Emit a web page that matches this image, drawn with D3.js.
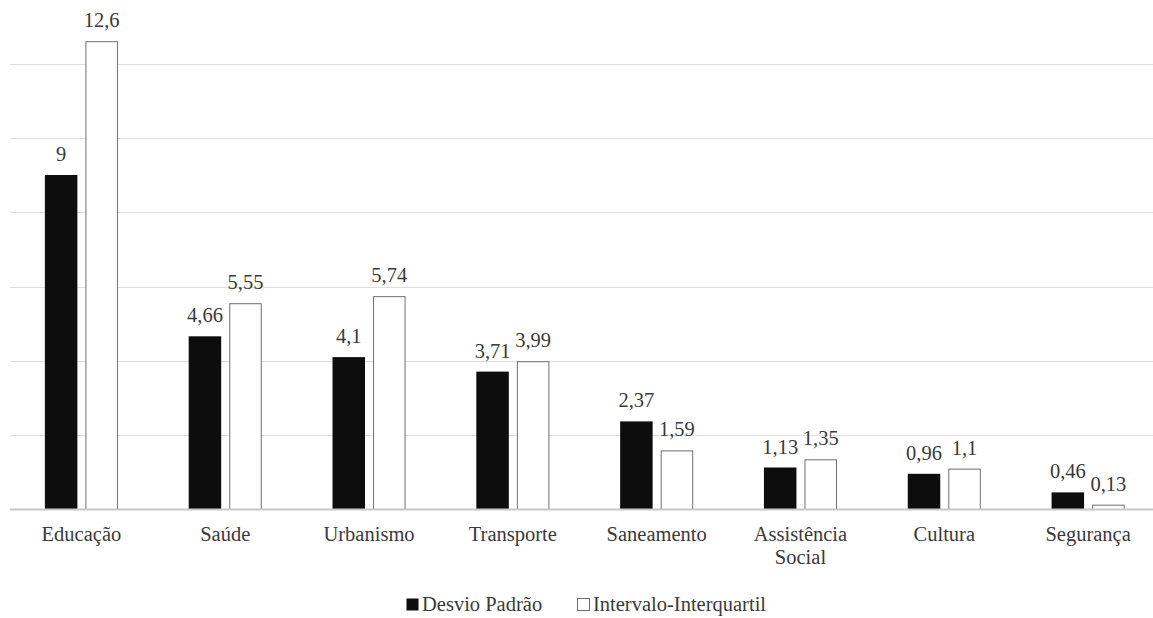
<!DOCTYPE html>
<html>
<head>
<meta charset="utf-8">
<script src="https://cdn.jsdelivr.net/npm/d3@7"></script>
<style>
  html, body { margin: 0; padding: 0; background: #fff; }
</style>
</head>
<body>
<svg id="chart" width="1153" height="618"></svg>
<script>
// Categories and the two dispersion measures per area
const categories = ["Educação", "Saúde", "Urbanismo", "Transporte", "Saneamento", "Assistência Social", "Cultura", "Segurança"];
const desvioPadrao = [9, 4.66, 4.1, 3.71, 2.37, 1.13, 0.96, 0.46];
const intervaloInterquartil = [12.6, 5.55, 5.74, 3.99, 1.59, 1.35, 1.1, 0.13];
const seriesNames = ["Desvio Padrão", "Intervalo-Interquartil"];
const yTicks = [0, 2, 4, 6, 8, 10, 12];

const W = 1153, H = 618;
const FONT = "'Liberation Serif', 'Times New Roman', Tinos, 'DejaVu Serif', serif";
const svg = d3.select("#chart").attr("font-family", FONT);

const plotLeft = 9.5, plotRight = 1160;
const x = d3.scaleBand().domain(categories).range([plotLeft, plotRight]).paddingInner(0).paddingOuter(0);
const y = d3.scaleLinear().domain([0, 12]).range([509.5, 63.5]);

const bw = x.bandwidth();
const barW = bw * 0.226;
const gap = bw * 0.056;

// Gridlines
svg.append("g").selectAll("line").data(yTicks.filter(d => d > 0)).join("line")
  .attr("x1", 10).attr("x2", W)
  .attr("y1", d => Math.round(y(d)) + 0.5).attr("y2", d => Math.round(y(d)) + 0.5)
  .attr("stroke", "#dedede").attr("stroke-width", 1.2);

const rows = categories.map((c, i) => ({ c, a: desvioPadrao[i], b: intervaloInterquartil[i] }));
const groups = svg.append("g").selectAll("g").data(rows).join("g")
  .attr("transform", d => `translate(${x(d.c) + bw / 2},0)`);

// Desvio Padrão bars (solid)
groups.append("rect")
  .attr("x", -gap / 2 - barW).attr("width", barW)
  .attr("y", d => y(d.a)).attr("height", d => y(0) - y(d.a))
  .attr("fill", "#0d0d0d");

// Intervalo-Interquartil bars (outlined)
groups.append("rect")
  .attr("x", gap / 2 + 0.5).attr("width", barW - 1)
  .attr("y", d => y(d.b) + 0.5).attr("height", d => Math.max(0, y(0) - y(d.b) - 0.5))
  .attr("fill", "#fff").attr("stroke", "#6e6e6e").attr("stroke-width", 1);

// Baseline
svg.append("line").attr("x1", 10).attr("x2", W)
  .attr("y1", y(0)).attr("y2", y(0))
  .attr("stroke", "#c8c8c8").attr("stroke-width", 2);

const fmt = v => String(v).replace(".", ",");
const labelFont = 20.5;

groups.append("text")
  .attr("x", -gap / 2 - barW / 2).attr("y", d => y(d.a) - 14)
  .attr("text-anchor", "middle").attr("font-size", labelFont).attr("fill", "#3a3a3a")
  .text(d => fmt(d.a));
groups.append("text")
  .attr("x", gap / 2 + barW / 2).attr("y", d => y(d.b) - 14)
  .attr("text-anchor", "middle").attr("font-size", labelFont).attr("fill", "#3a3a3a")
  .text(d => fmt(d.b));

// Category labels (wrapped on spaces when too long)
groups.each(function(d) {
  const g = d3.select(this);
  const words = d.c.split(" ");
  const lines = d.c.length > 12 ? words : [d.c];
  const t = g.append("text").attr("text-anchor", "middle").attr("font-size", labelFont).attr("fill", "#3a3a3a");
  lines.forEach((ln, i) => {
    t.append("tspan").attr("x", 0).attr("y", 541 + i * 23).text(ln);
  });
});

// Legend
const legend = svg.append("g");
const legendItems = [
  { name: seriesNames[0], x: 406, fill: "#0d0d0d", stroke: "none" },
  { name: seriesNames[1], x: 577, fill: "#fff", stroke: "#6e6e6e" }
];
legendItems.forEach(it => {
  legend.append("rect").attr("x", it.x + 0.5).attr("y", 598.5).attr("width", 12).attr("height", 12)
    .attr("fill", it.fill).attr("stroke", it.stroke);
  legend.append("text").attr("x", it.x + 16).attr("y", 611)
    .attr("font-size", labelFont).attr("fill", "#3a3a3a").text(it.name);
});
</script>
</body>
</html>
